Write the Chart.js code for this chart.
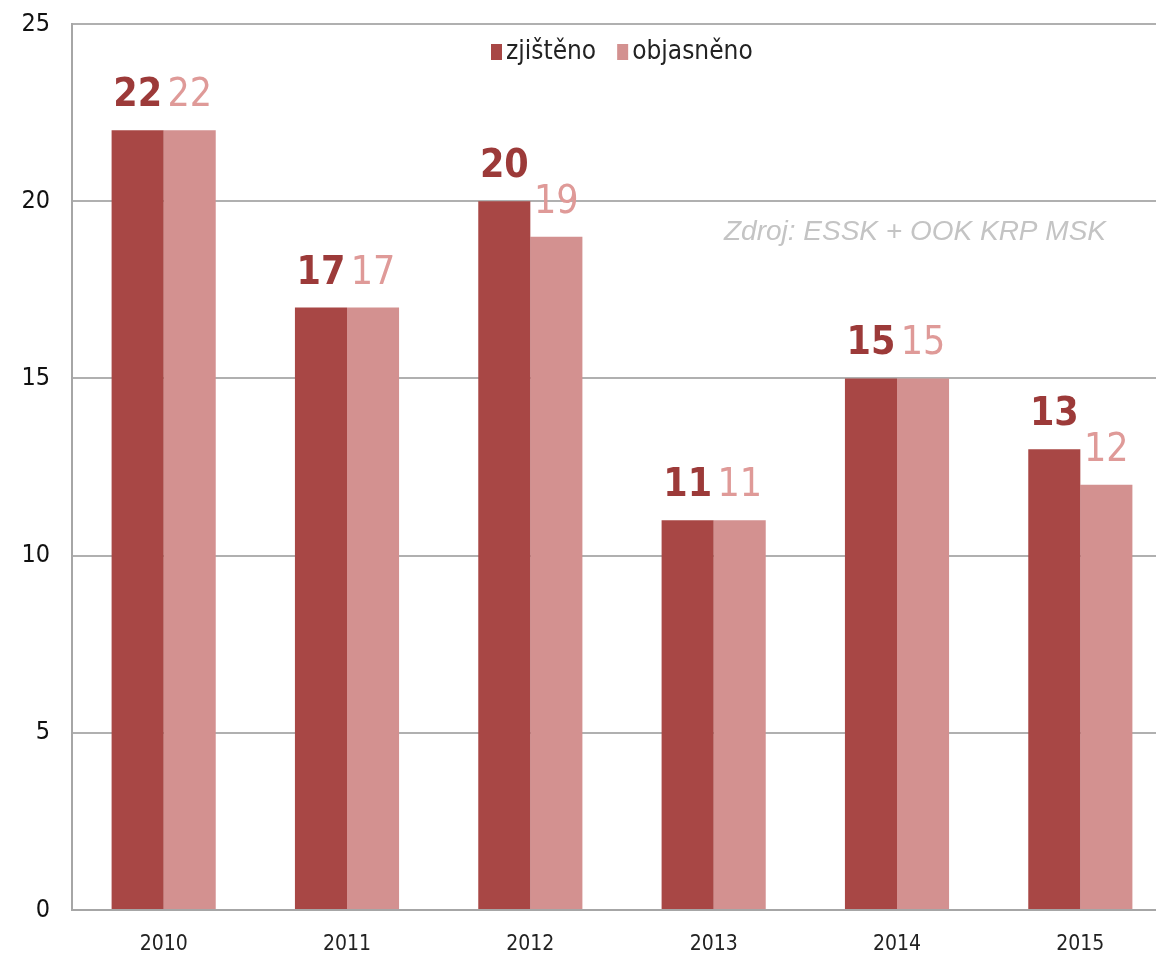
<!DOCTYPE html>
<html>
<head>
<meta charset="utf-8">
<script src="https://cdn.jsdelivr.net/npm/chart.js@4"></script>
<style>
  html, body { margin: 0; padding: 0; background: #fff; overflow: hidden; }
  #wrap { width: 1172px; height: 960px; position: relative; }
  canvas { display: block; }
</style>
</head>
<body>
<div id="wrap"><canvas id="chart"></canvas></div>
<script>
const years = ['2010', '2011', '2012', '2013', '2014', '2015'];
const zjisteno = [22, 17, 20, 11, 15, 13];
const objasneno = [22, 17, 19, 11, 15, 12];
const yTicks = [0, 5, 10, 15, 20, 25];
const sourceText = 'Zdroj: ESSK + OOK KRP MSK';

const narrow = '"Liberation Sans Narrow", "DejaVu Sans Condensed", "Roboto Condensed", sans-serif';

const labelsPlugin = {
  id: 'labels',
  afterDatasetsDraw(chart) {
    const ctx = chart.ctx;
    ctx.save();
    ctx.textAlign = 'center';
    ctx.textBaseline = 'alphabetic';
    chart.data.datasets.forEach((ds, i) => {
      const meta = chart.getDatasetMeta(i);
      ctx.fillStyle = ds.labelColor;
      ctx.font = (i === 0 ? 'bold ' : '') + '39px ' + narrow;
      meta.data.forEach((bar, j) => {
        ctx.fillText(ds.data[j], bar.x, bar.y - 24);
      });
    });

    // legend
    const ly = 52;
    let lx = 491;
    ctx.font = '26px ' + narrow;
    ctx.textAlign = 'left';
    ctx.textBaseline = 'middle';
    chart.data.datasets.forEach(ds => {
      ctx.fillStyle = ds.backgroundColor;
      ctx.fillRect(lx, ly - 8, 11, 16);
      ctx.fillStyle = '#222';
      ctx.fillText(ds.label, lx + 15, ly);
      lx += 15 + ctx.measureText(ds.label).width + 21;
    });

    // source
    ctx.font = 'italic 28px "Liberation Sans", Arial, sans-serif';
    ctx.fillStyle = '#c4c4c4';
    ctx.textAlign = 'right';
    ctx.fillText(sourceText, 1106, 232);
    ctx.restore();
  }
};

new Chart(document.getElementById('chart'), {
  type: 'bar',
  data: {
    labels: years,
    datasets: [
      {
        label: 'zjištěno',
        data: zjisteno,
        backgroundColor: '#a84745',
        labelColor: '#9c3a39',
        borderWidth: 0,
      },
      {
        label: 'objasněno',
        data: objasneno,
        backgroundColor: '#d39190',
        labelColor: '#df9a98',
        borderWidth: 0,
      },
    ],
  },
  options: {
    responsive: true,
    maintainAspectRatio: false,
    animation: false,
    layout: { padding: { top: 24, right: 0, left: 0, bottom: 0 } },
    datasets: {
      bar: { categoryPercentage: 0.568, barPercentage: 1 },
    },
    plugins: {
      legend: { display: false },
      tooltip: { enabled: false },
    },
    scales: {
      x: {
        grid: { display: false, drawTicks: false },
        border: { color: '#a6a6a6', width: 2 },
        afterFit(axis) {
          axis.height = 50;
          axis.paddingLeft = 0;
          axis.paddingRight = 0;
        },
        ticks: {
          color: '#222',
          font: { family: narrow, size: 21 },
          padding: 22,
        },
      },
      y: {
        min: 0,
        max: 25,
        afterBuildTicks(axis) {
          axis.ticks = yTicks.map(v => ({ value: v }));
        },
        afterFit(axis) {
          axis.width = 72;
          axis.paddingTop = 0;
          axis.paddingBottom = 0;
        },
        grid: { color: '#b0b0b0', lineWidth: 2, drawTicks: false },
        border: { color: '#a6a6a6', width: 2 },
        ticks: {
          color: '#111',
          font: { family: narrow, size: 25 },
          padding: 22,
        },
      },
    },
  },
  plugins: [labelsPlugin],
});
</script>
</body>
</html>
